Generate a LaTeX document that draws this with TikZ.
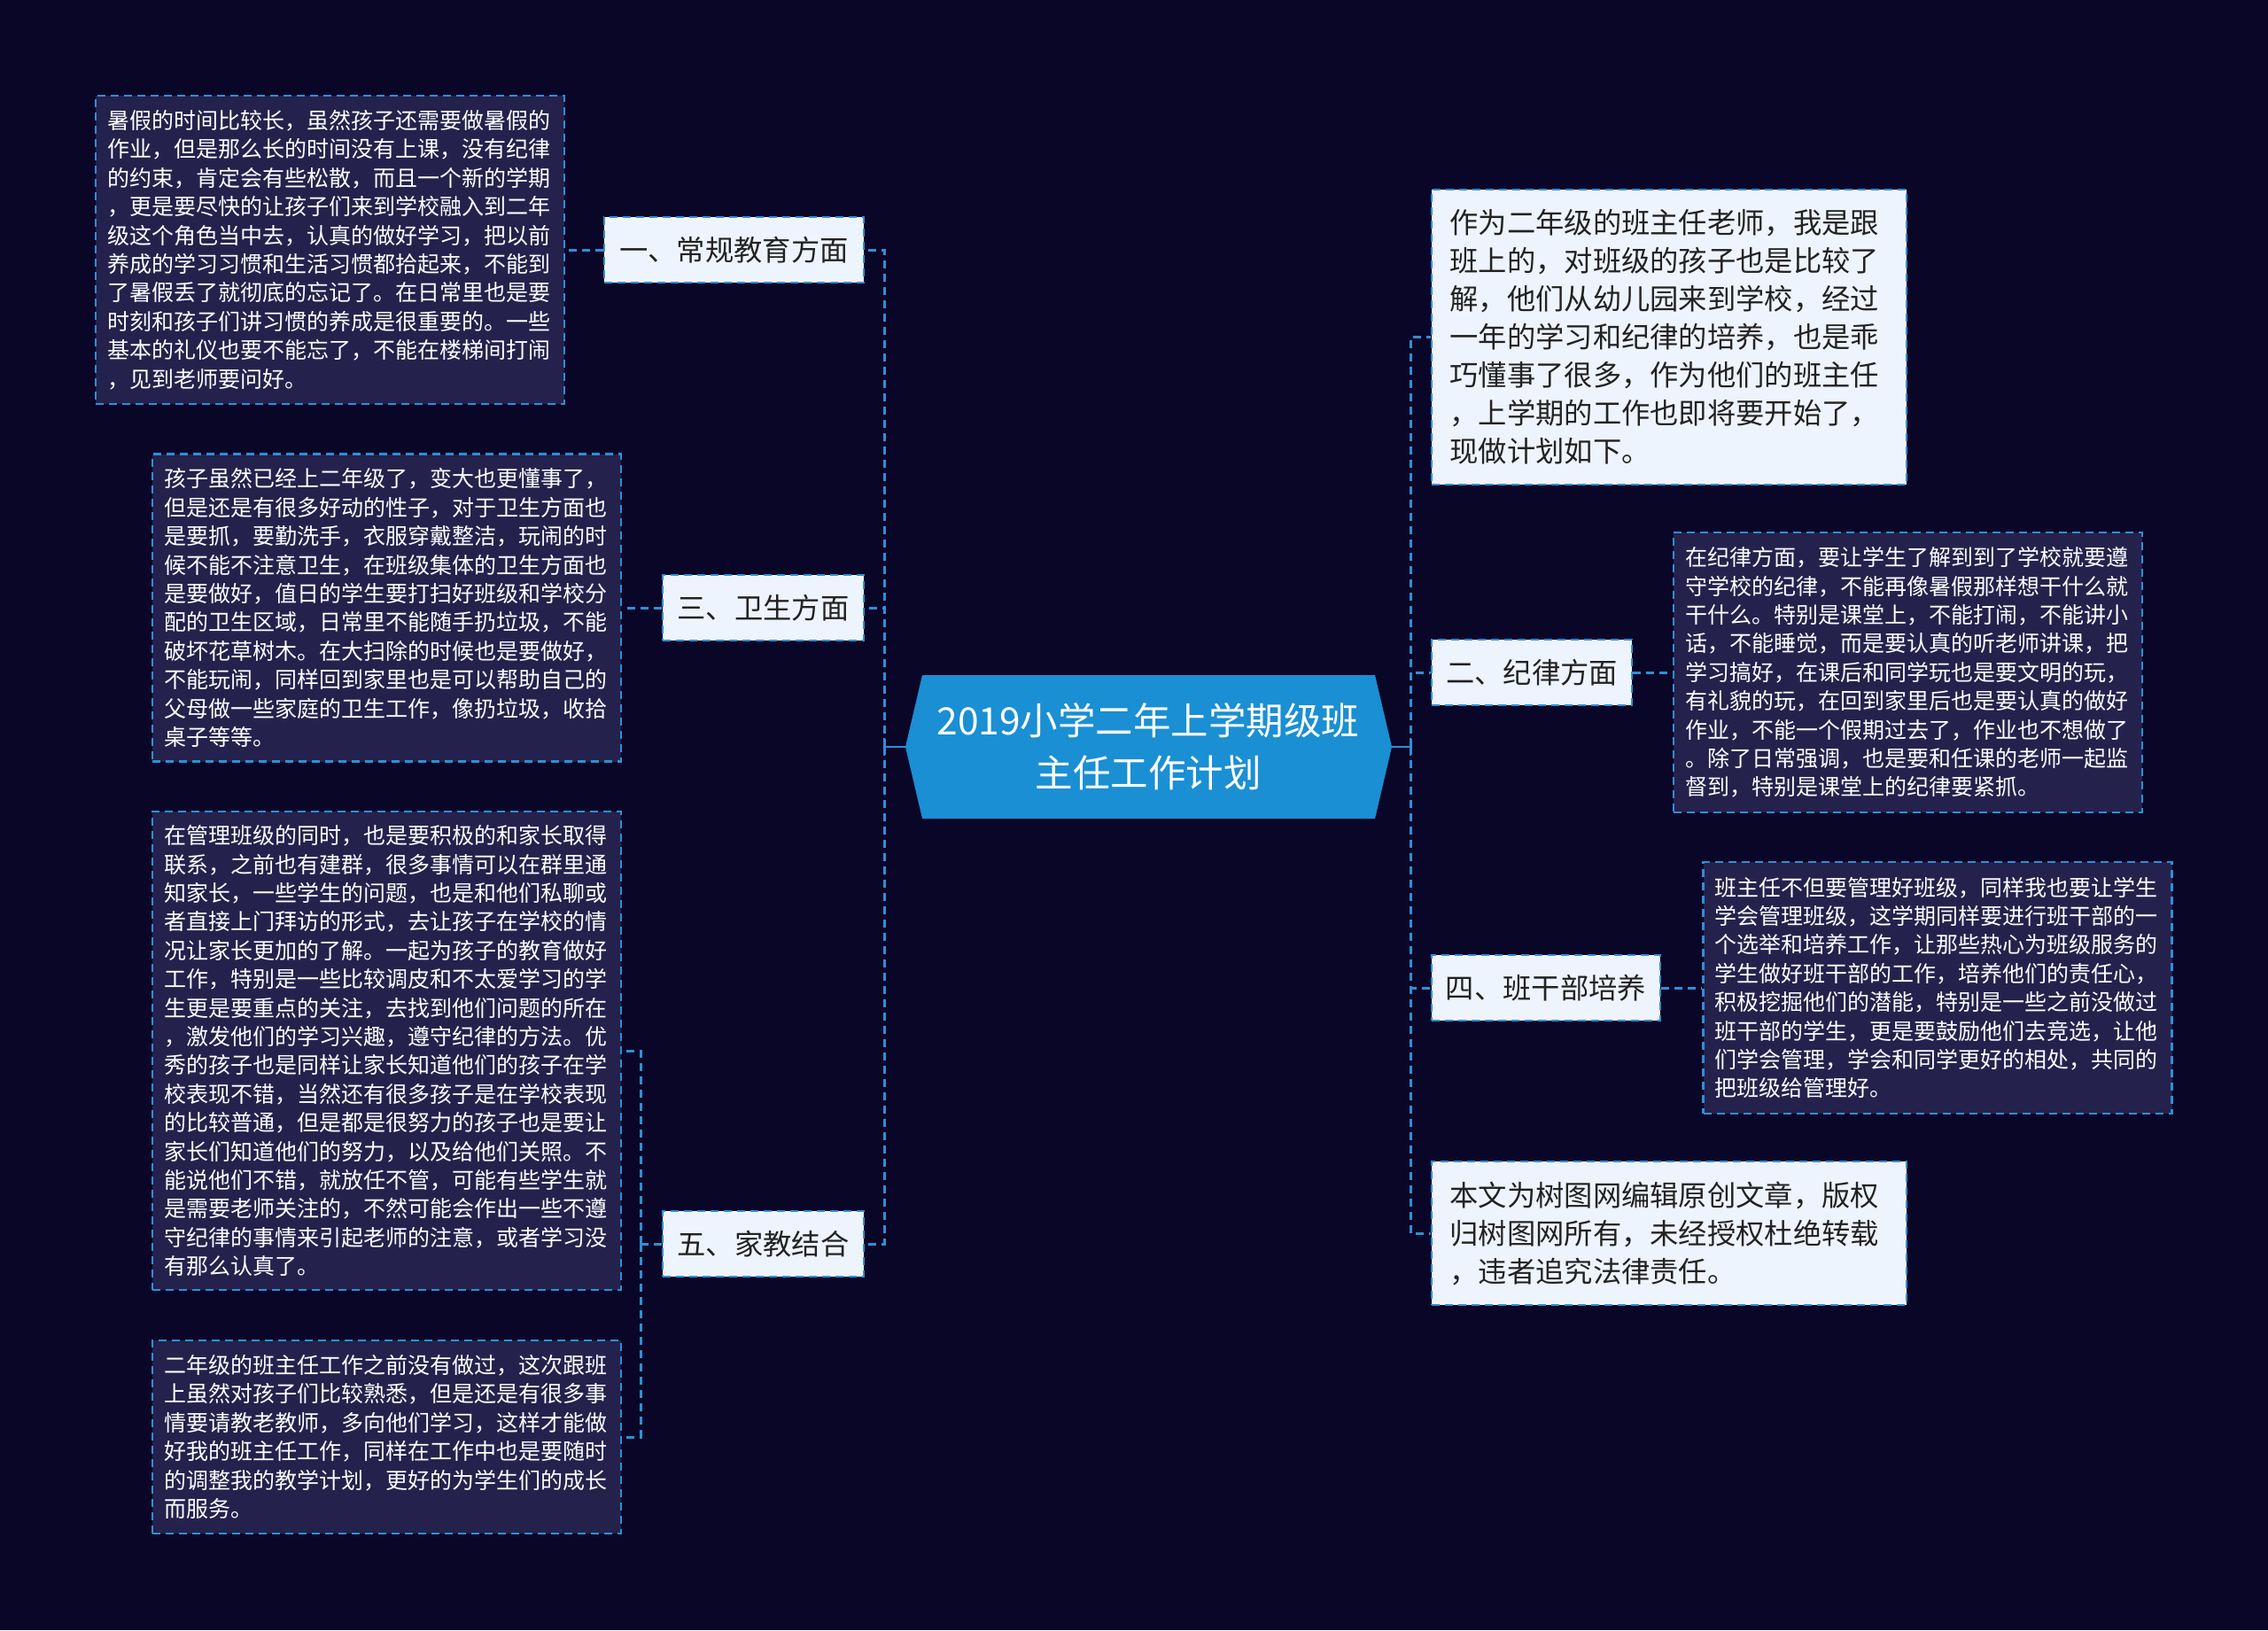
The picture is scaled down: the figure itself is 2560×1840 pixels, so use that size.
\documentclass[tikz,border=0pt]{standalone}
\usepackage{fontspec}
\setmainfont{Noto Sans CJK SC}
\definecolor{bgcol}{HTML}{0A0628}
\definecolor{leaffill}{HTML}{24224D}
\definecolor{lineblue}{HTML}{2F8FD6}
\definecolor{ctrfill}{HTML}{1A8FD3}
\definecolor{lightfill}{HTML}{EEF4FD}
\definecolor{darktext}{HTML}{222222}
\newcommand\leaffont{\fontsize{25}{32.4}\selectfont}
\newcommand\bigfontx{\fontsize{32.3}{43}\selectfont}
\newcommand\ctrfontx{\fontsize{42.5}{59}\selectfont}
\begin{document}
\begin{tikzpicture}[x=1pt,y=-1pt,
  conn/.style={draw=lineblue, line width=3pt, dash pattern=on 9pt off 6pt},
  stub/.style={draw=lineblue, line width=2.5pt},
  leafbox/.style={draw=lineblue, line width=2.5pt, dash pattern=on 9pt off 6pt, fill=leaffill, text=white, align=left, inner xsep=13pt, inner ysep=6pt, text width=503pt, minimum width=529pt, font=\leaffont},
  lightbox/.style={draw=lineblue, line width=2.5pt, dash pattern=on 9pt off 6pt, fill=lightfill, text=darktext, align=left, inner xsep=18pt, text width=495pt, minimum width=536pt, font=\bigfontx},
  branchbox/.style={draw=lineblue, line width=2.5pt, dash pattern=on 9pt off 6pt, fill=lightfill, text=darktext, inner sep=0pt, minimum height=74pt, font=\bigfontx},
]
\fill[bgcol] (0,0) rectangle (2560,1840);
\useasboundingbox (0,0) rectangle (2560,1840);

% central node
\fill[ctrfill] (1022,843) -- (1041,762) -- (1552,762) -- (1571,843) -- (1552,924) -- (1041,924) -- cycle;
\node[text=white, align=center, font=\ctrfontx, inner sep=0pt] (ctr) at (1296,843) {2019小学二年上学期级班\\主任工作计划};
\coordinate (ctrW) at (1022,843);
\coordinate (ctrE) at (1571,843);
\coordinate (jL) at (998,843);
\coordinate (jR) at (1592,843);
\coordinate (j5) at (723,1404);

% left branches
\node[branchbox, minimum width=293pt] (B1) at (828.5,282) {一、常规教育方面};
\node[branchbox, minimum width=227pt] (B3) at (861.5,686) {三、卫生方面};
\node[branchbox, minimum width=227pt] (B5) at (861.5,1404) {五、家教结合};

% left leaves
\node[leafbox, minimum height=348pt] (L1) at (372.5,282) {暑假的时间比较长，虽然孩子还需要做暑假的\\作业，但是那么长的时间没有上课，没有纪律\\的约束，肯定会有些松散，而且一个新的学期\\，更是要尽快的让孩子们来到学校融入到二年\\级这个角色当中去，认真的做好学习，把以前\\养成的学习习惯和生活习惯都拾起来，不能到\\了暑假丢了就彻底的忘记了。在日常里也是要\\时刻和孩子们讲习惯的养成是很重要的。一些\\基本的礼仪也要不能忘了，不能在楼梯间打闹\\，见到老师要问好。};
\node[leafbox, minimum height=347pt] (L3) at (436.5,686) {孩子虽然已经上二年级了，变大也更懂事了，\\但是还是有很多好动的性子，对于卫生方面也\\是要抓，要勤洗手，衣服穿戴整洁，玩闹的时\\候不能不注意卫生，在班级集体的卫生方面也\\是要做好，值日的学生要打扫好班级和学校分\\配的卫生区域，日常里不能随手扔垃圾，不能\\破坏花草树木。在大扫除的时候也是要做好，\\不能玩闹，同样回到家里也是可以帮助自己的\\父母做一些家庭的卫生工作，像扔垃圾，收拾\\桌子等等。};
\node[leafbox, minimum height=540pt] (L5a) at (436.5,1186) {在管理班级的同时，也是要积极的和家长取得\\联系，之前也有建群，很多事情可以在群里通\\知家长，一些学生的问题，也是和他们私聊或\\者直接上门拜访的形式，去让孩子在学校的情\\况让家长更加的了解。一起为孩子的教育做好\\工作，特别是一些比较调皮和不太爱学习的学\\生更是要重点的关注，去找到他们问题的所在\\，激发他们的学习兴趣，遵守纪律的方法。优\\秀的孩子也是同样让家长知道他们的孩子在学\\校表现不错，当然还有很多孩子是在学校表现\\的比较普通，但是都是很努力的孩子也是要让\\家长们知道他们的努力，以及给他们关照。不\\能说他们不错，就放任不管，可能有些学生就\\是需要老师关注的，不然可能会作出一些不遵\\守纪律的事情来引起老师的注意，或者学习没\\有那么认真了。};
\node[leafbox, minimum height=218pt] (L5b) at (436.5,1622) {二年级的班主任工作之前没有做过，这次跟班\\上虽然对孩子们比较熟悉，但是还是有很多事\\情要请教老教师，多向他们学习，这样才能做\\好我的班主任工作，同样在工作中也是要随时\\的调整我的教学计划，更好的为学生们的成长\\而服务。};

% right side
\node[lightbox, minimum height=333pt] (R0) at (1884,380.5) {作为二年级的班主任老师，我是跟\\班上的，对班级的孩子也是比较了\\解，他们从幼儿园来到学校，经过\\一年的学习和纪律的培养，也是乖\\巧懂事了很多，作为他们的班主任\\，上学期的工作也即将要开始了，\\现做计划如下。};
\node[branchbox, minimum width=226pt] (R2) at (1729,759) {二、纪律方面};
\node[branchbox, minimum width=258pt] (R4) at (1745,1115) {四、班干部培养};
\node[lightbox, minimum height=162pt] (R6) at (1884,1392) {本文为树图网编辑原创文章，版权\\归树图网所有，未经授权杜绝转载\\，违者追究法律责任。};

\node[leafbox, minimum height=316pt] (R2L) at (2153.5,759) {在纪律方面，要让学生了解到到了学校就要遵\\守学校的纪律，不能再像暑假那样想干什么就\\干什么。特别是课堂上，不能打闹，不能讲小\\话，不能睡觉，而是要认真的听老师讲课，把\\学习搞好，在课后和同学玩也是要文明的玩，\\有礼貌的玩，在回到家里后也是要认真的做好\\作业，不能一个假期过去了，作业也不想做了\\。除了日常强调，也是要和任课的老师一起监\\督到，特别是课堂上的纪律要紧抓。};
\node[leafbox, minimum height=284pt] (R4L) at (2187,1115) {班主任不但要管理好班级，同样我也要让学生\\学会管理班级，这学期同样要进行班干部的一\\个选举和培养工作，让那些热心为班级服务的\\学生做好班干部的工作，培养他们的责任心，\\积极挖掘他们的潜能，特别是一些之前没做过\\班干部的学生，更是要鼓励他们去竞选，让他\\们学会管理，学会和同学更好的相处，共同的\\把班级给管理好。};

% connectors
\draw[stub] (ctrW) -- (jL) ++(0,-10) -- ++(0,20);
\draw[stub] (ctrE) -- (jR) ++(0,-10) -- ++(0,20);
\draw[conn] (jL) |- (B1.east);
\draw[conn] (jL) |- (B3.east);
\draw[conn] (jL) |- (B5.east);
\draw[conn] (B1.west) -- (L1.east);
\draw[conn] (B3.west) -- (L3.east);
\draw[conn] (B5.west) -- (j5);
\draw[conn] (j5) |- (L5a.east);
\draw[conn] (j5) |- (L5b.east);
\draw[conn] (jR) |- (R0.west);
\draw[conn] (jR) |- (R2.west);
\draw[conn] (jR) |- (R4.west);
\draw[conn] (jR) |- (R6.west);
\draw[conn] (R2.east) -- (R2L.west);
\draw[conn] (R4.east) -- (R4L.west);
\end{tikzpicture}
\end{document}
